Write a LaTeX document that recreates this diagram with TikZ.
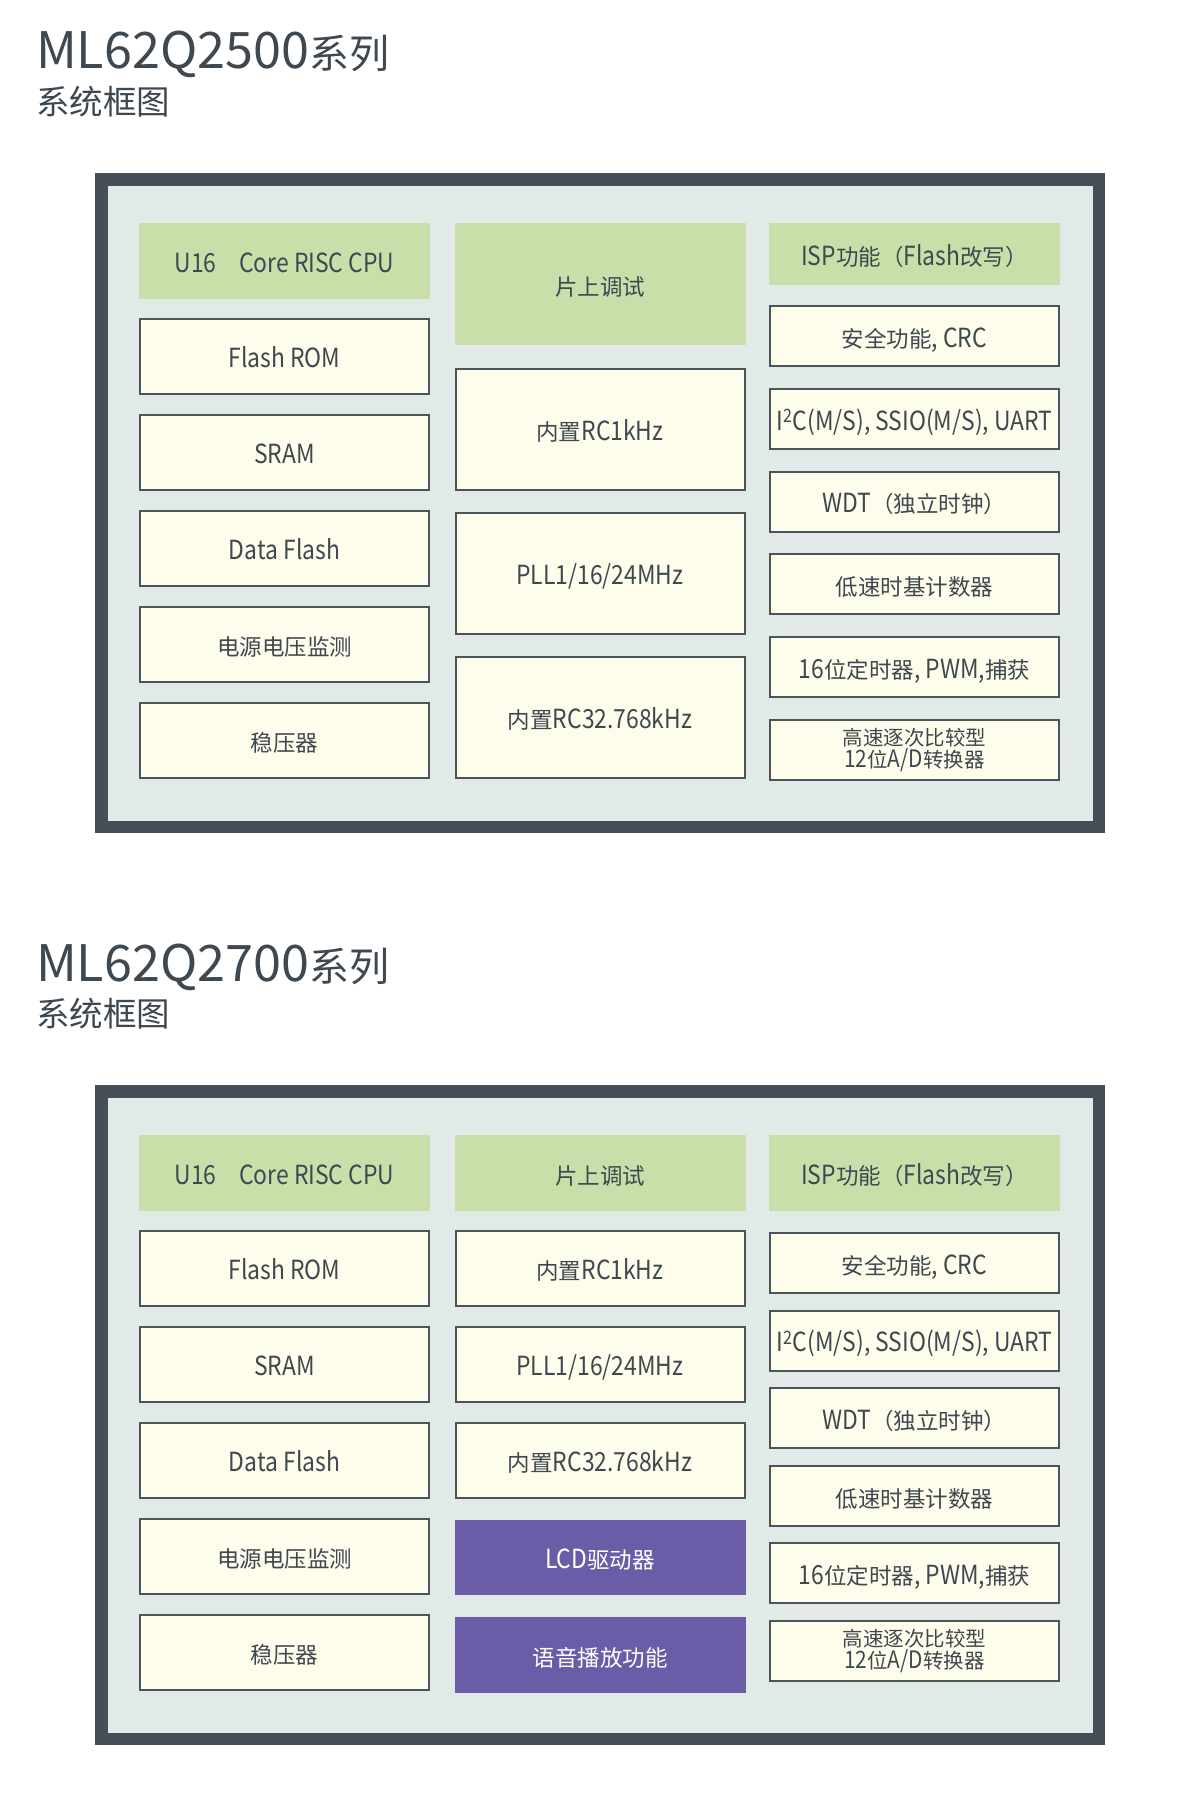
\documentclass[tikz,border=0pt]{standalone}
\usepackage{fontspec}
\setmainfont{Noto Sans CJK SC}[Scale=1.17]
\newfontfamily\narrow{Noto Sans CJK SC}[Scale=1.17, FakeStretch=0.87]
\newfontfamily\cjk{Noto Sans CJK SC}

\definecolor{ink}{HTML}{3E4850}
\definecolor{rim}{HTML}{454F58}
\definecolor{panel}{HTML}{E1EAE7}
\definecolor{leaf}{HTML}{C9DFAA}
\definecolor{cream}{HTML}{FEFDEB}
\definecolor{edge}{HTML}{4A545B}
\definecolor{grape}{HTML}{6B5CA8}

\begin{document}
\begin{tikzpicture}[x=1pt, y=-1pt,
    every node/.style={inner sep=0pt, outer sep=0pt, text=ink, align=center,
      font=\narrow\fontsize{22.5}{23}\selectfont, text height=22.5pt, text depth=0pt},
    board/.style={draw=rim, fill=panel, line width=12.5pt, minimum width=997.5, minimum height=647.5},
    greenbox/.style={fill=leaf, minimum width=291, minimum height=#1},
    creambox/.style={draw=edge, fill=cream, line width=2pt, minimum width=289, minimum height=#1},
    purplebox/.style={fill=grape, text=white, minimum width=291, minimum height=#1},
    twolines/.style={text height={}, text depth={}}]
    \useasboundingbox (0,0) rectangle (1200,1817);

    % common parts of both boards
    \foreach \o/\n/\s in {0/2500/A, 912/2700/B} {
        \node[anchor=base west, twolines, font=\rmfamily\fontsize{43}{43}\selectfont] (title\s) at (36,{69+\o})
            {ML62Q\n{\cjk\fontsize{40}{40}\selectfont 系列}};
        \node[anchor=base west, twolines, font=\cjk\fontsize{33.5}{34}\selectfont] (sub\s) at (36,{114+\o}) {系统框图};
        \node[board] (board\s) at (600,{503+\o}) {};
        \node[greenbox=76] (cpu\s) at (284.5,{261+\o}) {U16{\cjk 　}Core RISC CPU};
        \foreach \t [count=\i] in {Flash ROM, SRAM, Data Flash, {\cjk 电源电压监测}, {\cjk 稳压器}}
            \node[creambox=75] (mem\s-\i) at (284.5,{260.5+96*\i+\o}) {\t};
    }

    % ML62Q2500: middle and right columns
    \node[greenbox=122] (dbgA) at (600,284) {\cjk 片上调试};
    \foreach \t [count=\i] in {{{\cjk 内置}RC1kHz}, PLL1/16/24MHz, {{\cjk 内置}RC32.768kHz}}
        \node[creambox=121] (clkA-\i) at (600,{285+144*\i}) {\t};
    \node[greenbox=62] (ispA) at (914.5,254) {ISP{\cjk 功能（}Flash{\cjk 改写）}};
    \foreach \t [count=\i] in {{{\cjk 安全功能}, CRC}, {I\textsuperscript{2}C(M/S), SSIO(M/S), UART},
        {WDT{\cjk （独立时钟）}}, {\cjk 低速时基计数器}, {16{\cjk 位定时器}, PWM,{\cjk 捕获}}}
        \node[creambox=60] (perA-\i) at (914.5,{253.2+82.8*\i}) {\t};
    \node[creambox=60, twolines, font=\narrow\fontsize{20.5}{22.7}\selectfont] (adcA) at (914.5,750)
        {{\cjk 高速逐次比较型}\\12{\cjk 位}A/D{\cjk 转换器}};

    % ML62Q2700: middle and right columns
    \node[greenbox=76] (dbgB) at (600,1173) {\cjk 片上调试};
    \foreach \t [count=\i] in {{{\cjk 内置}RC1kHz}, PLL1/16/24MHz, {{\cjk 内置}RC32.768kHz}}
        \node[creambox=75] (clkB-\i) at (600,{1172.5+96*\i}) {\t};
    \node[purplebox=75] (lcdB) at (600,1557.5) {LCD{\cjk 驱动器}};
    \node[purplebox=76] (voiceB) at (600,1655) {\cjk 语音播放功能};
    \node[greenbox=76] (ispB) at (914.5,1173) {ISP{\cjk 功能（}Flash{\cjk 改写）}};
    \foreach \t [count=\i] in {{{\cjk 安全功能}, CRC}, {I\textsuperscript{2}C(M/S), SSIO(M/S), UART},
        {WDT{\cjk （独立时钟）}}, {\cjk 低速时基计数器}, {16{\cjk 位定时器}, PWM,{\cjk 捕获}}}
        \node[creambox=60] (perB-\i) at (914.5,{1185.4+77.6*\i}) {\t};
    \node[creambox=60, twolines, font=\narrow\fontsize{20.5}{22.7}\selectfont] (adcB) at (914.5,1651)
        {{\cjk 高速逐次比较型}\\12{\cjk 位}A/D{\cjk 转换器}};
\end{tikzpicture}
\end{document}
